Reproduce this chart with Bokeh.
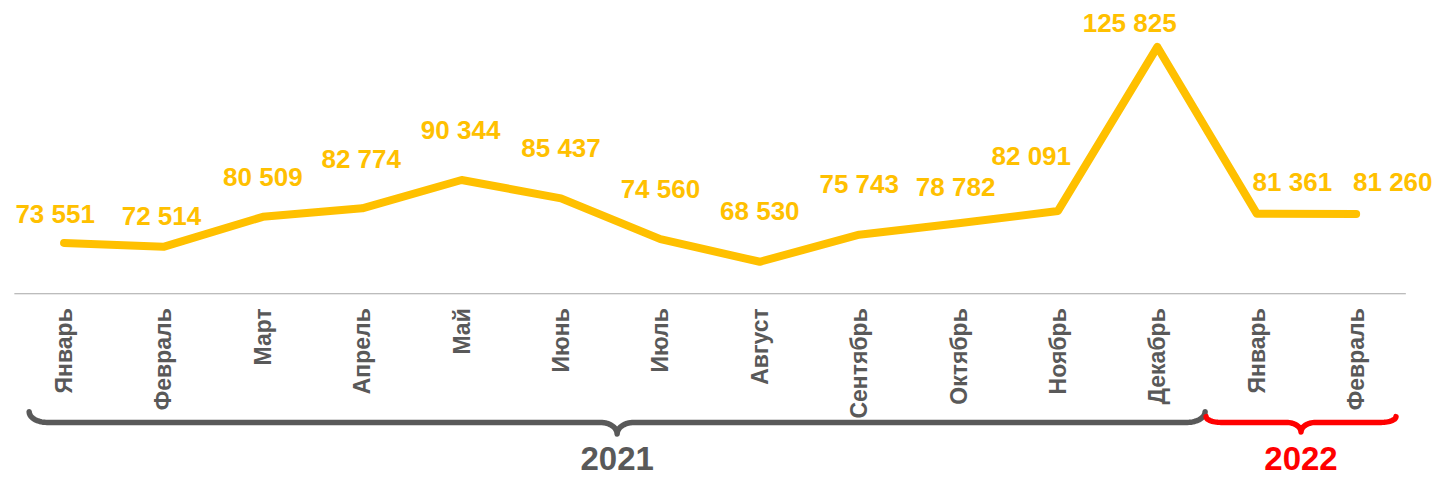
import numpy as np
from bokeh.plotting import figure
from bokeh.models import ColumnDataSource, Range1d
from bokeh.core.properties import value
from bokeh.embed import file_html
from bokeh.resources import INLINE

# ---- data ----
months = ["Январь", "Февраль", "Март", "Апрель", "Май", "Июнь", "Июль",
          "Август", "Сентябрь", "Октябрь", "Ноябрь", "Декабрь",
          "Январь", "Февраль"]
years = ["2021", "2022"]
year_counts = [12, 2]
values = [73551, 72514, 80509, 82774, 90344, 85437, 74560, 68530,
          75743, 78782, 82091, 125825, 81361, 81260]

# ---- style: label nudges in reference px (dx right, dy up) ----
label_dx = [-9, -2, 0, -1, -1, 0, 0, 0, 0, -3, -27, -28, 36, 37]
label_dy = [30, 32, 41, 51, 52, 52, 52, 52, 52, 38, 57, 25, 33, 33]

FONT = value("Liberation Sans")
YELLOW = "#FFC000"
GREY = "#595959"
year_colors = [GREY, "#FF0000"]

W, H = 1437, 479            # figure size
RW, RH = 1453, 495          # design canvas size
SX, SY = W / RW, H / RH
step = 100.5                # design px per category
left_pad = 14               # design px from edge to first category band
baseline = 60000

x = np.arange(len(months))
x0 = -0.5 - left_pad / step
x_range = Range1d(x0, x0 + RW / step)

p = figure(width=W, height=H, output_backend="svg", toolbar_location=None,
           x_range=x_range, y_range=Range1d(10465, 138207),
           x_axis_type=None, y_axis_type=None,
           min_border=0, min_border_left=0, min_border_right=0,
           min_border_top=0, min_border_bottom=0)
p.outline_line_color = None
p.background_fill_color = "white"
p.border_fill_color = "white"
# design-pixel coordinate system for decorations
p.extra_x_ranges = {"px": Range1d(0, RW)}
p.extra_y_ranges = {"px": Range1d(RH, 0)}

# baseline axis line
p.line([-0.5, len(months) - 0.5], [baseline, baseline], line_color="#A6A6A6", line_width=1)

# main line
src = ColumnDataSource(dict(
    x=x, y=values,
    label=[f"{v:,}".replace(",", " ") for v in values],
    dx=[d * SX for d in label_dx], dy=[-d * SY for d in label_dy]))
p.line("x", "y", source=src, line_color=YELLOW, line_width=8,
       line_cap="round", line_join="round")
p.text("x", "y", text="label", source=src, x_offset="dx", y_offset="dy",
       text_font=FONT, text_font_style="bold", text_font_size="26px",
       text_color=YELLOW, text_align="center", text_baseline="middle")

# month labels (vertical)
msrc = ColumnDataSource(dict(x=x, y=[318] * len(months), t=months))
p.text("x", "y", text="t", source=msrc, y_range_name="px",
       angle=np.pi / 2, text_font=FONT, text_font_style="bold",
       text_font_size="23px", text_color=GREY,
       text_align="right", text_baseline="middle")


def brace(xa, xb, y_top, y_line, y_tip, rx, ry, rx2, n=16):
    xm = (xa + xb) / 2
    t = np.linspace(np.pi, np.pi / 2, n)
    lx = xa + rx + rx * np.cos(t)
    ly = y_top + ry * np.sin(t)
    s = np.linspace(0, np.pi / 2, n)
    ry2 = y_tip - y_line
    mx = (xm - rx2) + rx2 * np.sin(s)
    my = y_tip - ry2 * np.cos(s)
    xs_left = np.concatenate([lx, mx])
    ys_left = np.concatenate([ly, my])
    xs = np.concatenate([xs_left, (2 * xm - xs_left)[::-1]])
    ys = np.concatenate([ys_left, ys_left[::-1]])
    return xs, ys, xm


braces = [
    dict(xa=29, xb=1218, y_top=425, y_line=436, y_tip=448, rx=18, ry=11, rx2=17),
    dict(xa=1219, xb=1411, y_top=430, y_line=436, y_tip=446, rx=15, ry=6, rx2=15),
]
for b, yr, col in zip(braces, years, year_colors):
    xs, ys, xm = brace(**b)
    p.line(xs, ys, x_range_name="px", y_range_name="px", line_color=col,
           line_width=5.5, line_cap="round", line_join="round")
    p.text([xm], [473], text=[yr], x_range_name="px", y_range_name="px",
           text_font=FONT, text_font_style="bold", text_font_size="33px",
           text_color=col, text_align="center", text_baseline="middle")

open("out.html", "w").write(file_html(p, INLINE))
